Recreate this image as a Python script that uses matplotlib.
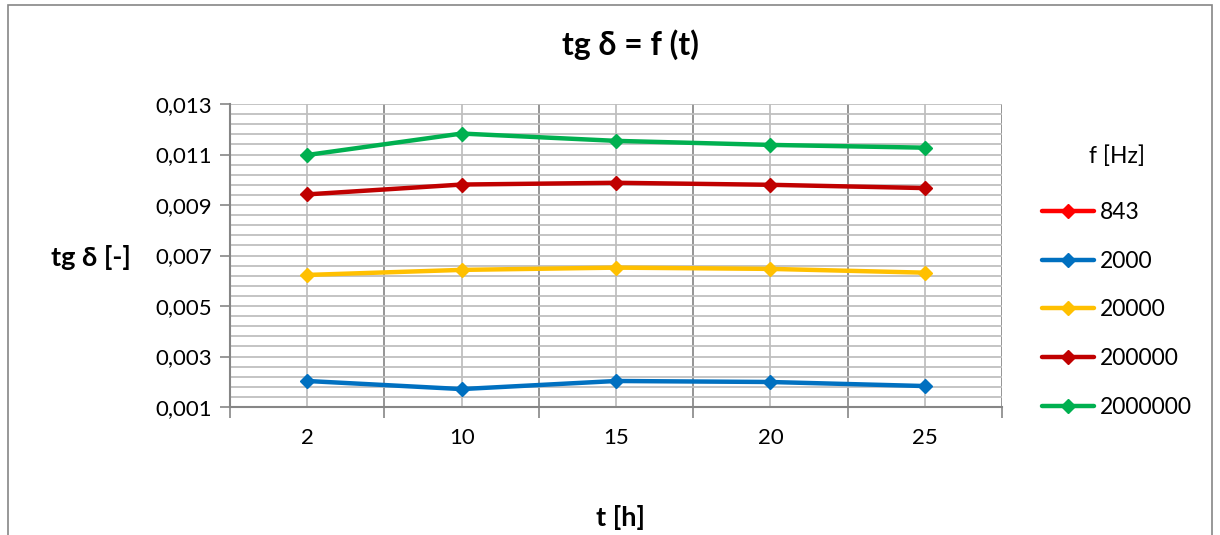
import numpy as np
import matplotlib
matplotlib.use("Agg")
import matplotlib.pyplot as plt
from matplotlib.ticker import FuncFormatter, FixedLocator
from matplotlib.patches import Rectangle

# --- DATA ---
hours = ["2", "10", "15", "20", "25"]
freqs = ["843", "2000", "20000", "200000", "2000000"]
tg_843 = [np.nan, np.nan, np.nan, np.nan, np.nan]  # no visible points
tg_2000 = [0.00203, 0.00171, 0.00203, 0.00199, 0.00183]
tg_20000 = [0.00623, 0.00643, 0.00652, 0.00647, 0.00632]
tg_200000 = [0.00942, 0.00981, 0.00988, 0.00980, 0.00967]
tg_2000000 = [0.01098, 0.01183, 0.01154, 0.01138, 0.01127]
colors = ["#FF0000", "#0070C0", "#FFC000", "#C00000", "#00B050"]

plt.rcParams['font.family'] = ['Lato', 'DejaVu Sans']

fig = plt.figure(figsize=(12.2, 5.35), dpi=100)
ax = fig.add_axes([230/1220, 1-407/535, 772/1220, 303/535])

# outer chart frame (bottom runs off the image)
fig.patches.append(Rectangle((8/1220, -0.05), 1204/1220, 1.05 - 5/535,
                             transform=fig.transFigure, fill=False,
                             edgecolor="#868686", linewidth=1.2))

x = np.arange(len(hours))
series = [tg_843, tg_2000, tg_20000, tg_200000, tg_2000000]
for vals, c, lab in zip(series, colors, freqs):
    ax.plot(x, vals, color=c, linewidth=3.2, marker="D", markersize=7,
            label=lab, zorder=3, solid_capstyle="round")

ax.set_xlim(-0.5, len(hours) - 0.5)
ax.set_ylim(0.001, 0.013)

# y axis
ax.yaxis.set_major_locator(FixedLocator(np.arange(0.001, 0.01301, 0.002)))
ax.yaxis.set_minor_locator(FixedLocator(np.arange(0.001, 0.01301, 0.0004)))
ax.yaxis.set_major_formatter(FuncFormatter(lambda v, p: f"{v:.3f}".replace(".", ",")))
ax.tick_params(axis="y", which="major", length=7, width=1.2, color="#868686",
               labelsize=16, pad=6)
ax.tick_params(axis="y", which="minor", length=0)
ax.grid(True, axis="y", which="both", color="#BFBFBF", linewidth=1.3)

# x axis: ticks at category boundaries, labels at centers
ax.xaxis.set_major_locator(FixedLocator(np.arange(-0.5, len(hours), 1.0)))
ax.set_xticks(x, minor=True)
ax.set_xticklabels(hours, minor=True)
ax.set_xticklabels([""] * len(ax.get_xticks()))
ax.tick_params(axis="x", which="major", length=8, width=1.2, color="#868686")
ax.tick_params(axis="x", which="minor", length=0, labelsize=16, pad=15)
ax.grid(True, axis="x", which="major", color="#8C8C8C", linewidth=1.3)
ax.grid(True, axis="x", which="minor", color="#BFBFBF", linewidth=1.3)
ax.set_axisbelow(True)

for s in ["top", "right"]:
    ax.spines[s].set_visible(False)
for s in ["left", "bottom"]:
    ax.spines[s].set_color("#868686")
    ax.spines[s].set_linewidth(1.5)

fig.text(630/1220, 1-45/535, "tg δ = f (t)", ha="center", va="center",
         fontsize=23, fontweight="bold")
fig.text(91/1220, 1-257/535, "tg δ [-]", ha="center", va="center",
         fontsize=19.5, fontweight="bold")
fig.text(620/1220, 1-517/535, "t [h]", ha="center", va="center",
         fontsize=19.5, fontweight="bold")

leg = fig.legend(loc="upper left", bbox_to_anchor=(1021/1220, 1-125/535),
                 title="f [Hz]", frameon=False, fontsize=16.5,
                 title_fontsize=16.5, handlelength=2.3, labelspacing=1.21,
                 handletextpad=0.25)
leg._legend_box.sep = 25

fig.savefig("out.png", dpi=100)
